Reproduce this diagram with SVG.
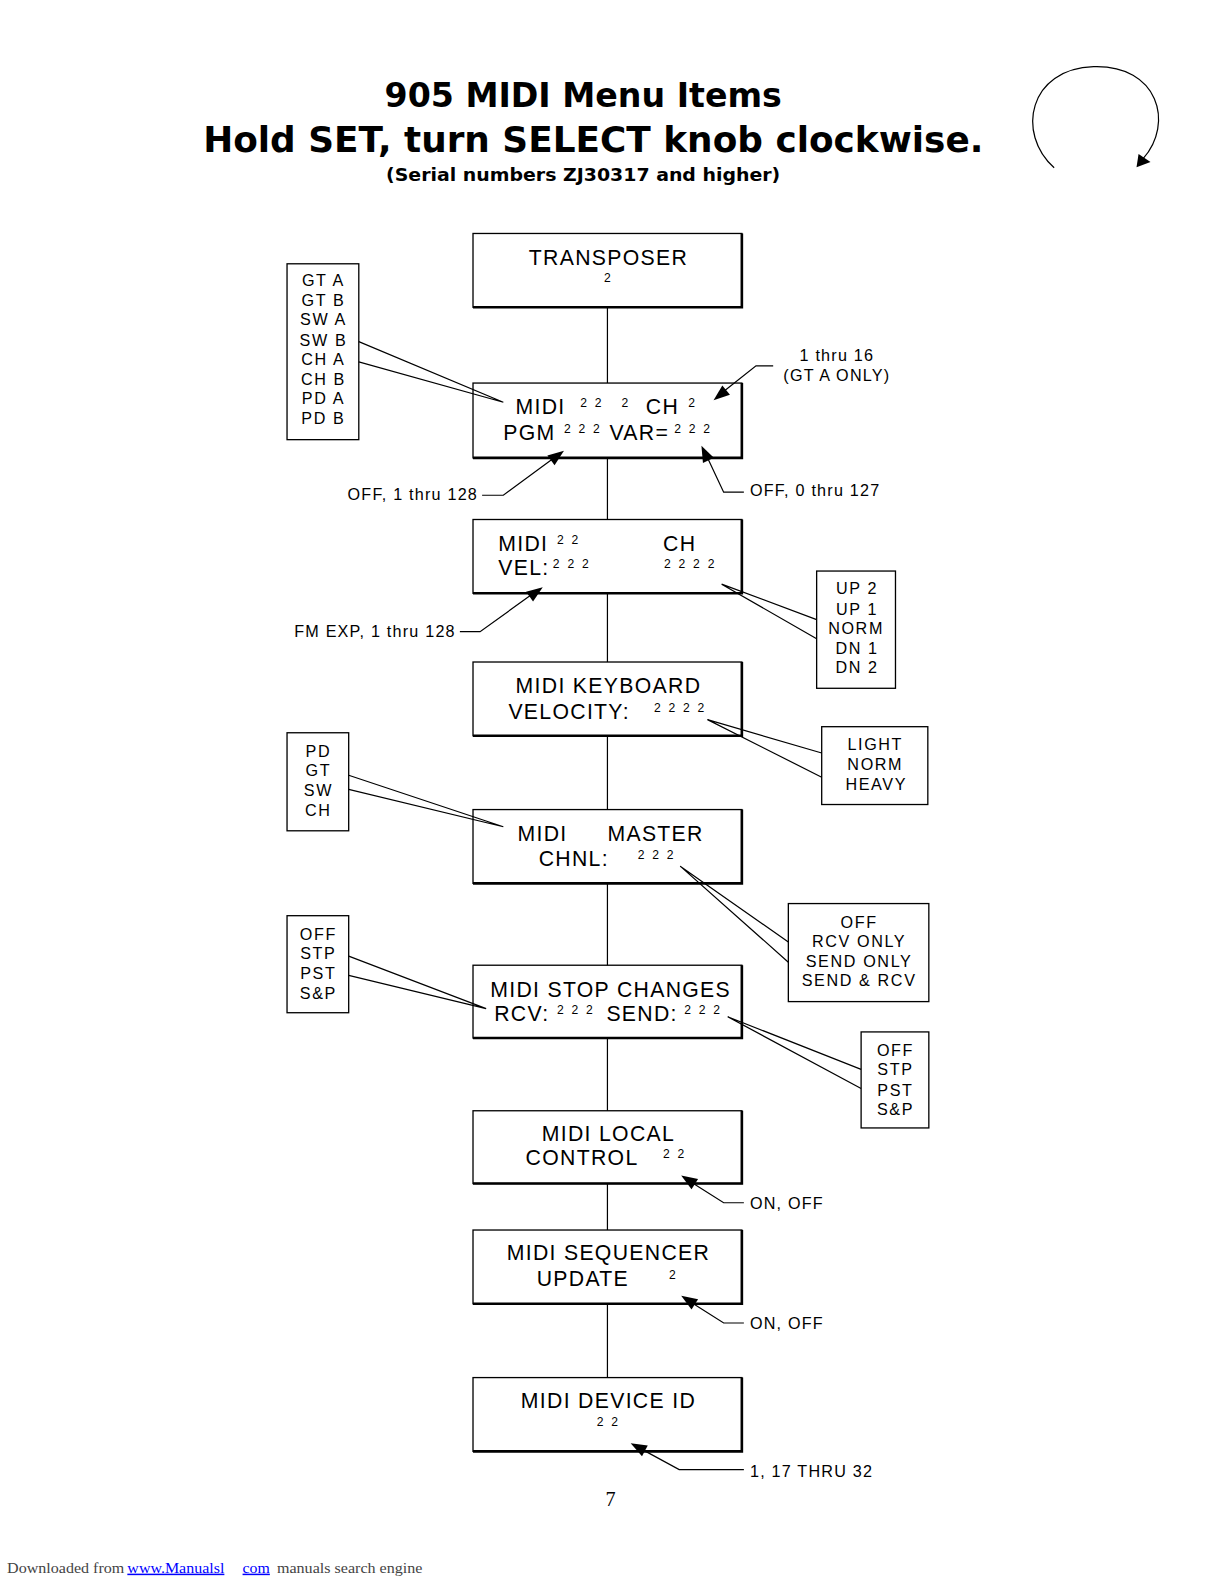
<svg xmlns="http://www.w3.org/2000/svg" width="1225" height="1585" viewBox="0 0 1225 1585">
<style>
.bx{fill:#fff;stroke:#000;stroke-width:1.3}
.sh{fill:none;stroke:#000;stroke-width:2.6}
.m{font-family:"Liberation Sans",Arial,sans-serif;font-size:21px;letter-spacing:1.3px;fill:#000}
.s{font-family:"Liberation Sans",Arial,sans-serif;font-size:12px;letter-spacing:2.2px;fill:#000}
.o{font-family:"Liberation Sans",Arial,sans-serif;font-size:16px;letter-spacing:1.6px;fill:#000;text-anchor:middle}
.a{font-family:"Liberation Sans",Arial,sans-serif;font-size:16px;letter-spacing:1.2px;fill:#000}
.ln{fill:none;stroke:#000;stroke-width:1.2}
.hd{fill:#000;stroke:none}
.c{text-anchor:middle}
.t{font-family:"DejaVu Sans",sans-serif;font-weight:bold;fill:#000;text-anchor:middle}
.f{font-family:"Liberation Serif",serif;font-size:15px}
</style>
<rect width="1225" height="1585" fill="#fff"/>
<g transform="scale(1.0107)">

<g id="title">
<text class="t" x="577" y="106" font-size="33" textLength="393" lengthAdjust="spacingAndGlyphs">905 MIDI Menu Items</text>
<text class="t" x="587" y="150" font-size="35" textLength="772" lengthAdjust="spacingAndGlyphs">Hold SET, turn SELECT knob clockwise.</text>
<text class="t" x="577" y="179" font-size="17" textLength="390" lengthAdjust="spacingAndGlyphs">(Serial numbers ZJ30317 and higher)</text>
</g>

<g id="knob">
<path d="M1043,166 C1005,132 1018,68 1082,66 C1146,64 1162,122 1131,157" class="ln" stroke-width="1.5"/>
<polygon class="hd" points="1124.5,165.5 1126.5,152.3 1138.3,160.2"/>
</g>

<g id="n1">
<rect class="bx" x="468" y="231" width="266" height="73"/>
<path class="sh" d="M734,231 V304 H468"/>
<text class="m c" x="602" y="262">TRANSPOSER</text>
<text class="s c" x="602" y="279">2</text>
</g>

<g id="n2">
<rect class="bx" x="468" y="379" width="266" height="74"/>
<path class="sh" d="M734,379 V453 H468"/>
<text class="m" x="510" y="410">MIDI</text>
<text class="s" x="574" y="403">2 2</text>
<text class="s" x="615" y="403">2</text>
<text class="m" x="639" y="410">CH</text>
<text class="s" x="681" y="403">2</text>
<text class="m" x="498" y="435">PGM</text>
<text class="s" x="558" y="428">2 2 2</text>
<text class="m" x="603" y="435">VAR=</text>
<text class="s" x="667" y="428">2 2 2</text>
</g>

<g id="n3">
<rect class="bx" x="468" y="514" width="266" height="73"/>
<path class="sh" d="M734,514 V587 H468"/>
<text class="m" x="493" y="545">MIDI</text>
<text class="s" x="551" y="538">2 2</text>
<text class="m" x="656" y="545">CH</text>
<text class="m" x="493" y="569">VEL:</text>
<text class="s" x="547" y="562">2 2 2</text>
<text class="s" x="657" y="562">2 2 2 2</text>
</g>

<g id="n4">
<rect class="bx" x="468" y="655" width="266" height="73"/>
<path class="sh" d="M734,655 V728 H468"/>
<text class="m c" x="602" y="686">MIDI KEYBOARD</text>
<text class="m" x="503" y="711">VELOCITY:</text>
<text class="s" x="647" y="704">2 2 2 2</text>
</g>

<g id="n5">
<rect class="bx" x="468" y="801" width="266" height="73"/>
<path class="sh" d="M734,801 V874 H468"/>
<text class="m" x="512" y="832">MIDI</text>
<text class="m" x="601" y="832">MASTER</text>
<text class="m" x="533" y="857">CHNL:</text>
<text class="s" x="631" y="850">2 2 2</text>
</g>

<g id="n6">
<rect class="bx" x="468" y="955" width="266" height="72"/>
<path class="sh" d="M734,955 V1027 H468"/>
<text class="m" x="485" y="986" letter-spacing="0.7">MIDI STOP CHANGES</text>
<text class="m" x="489" y="1010">RCV:</text>
<text class="s" x="551" y="1003">2 2 2</text>
<text class="m" x="600" y="1010">SEND:</text>
<text class="s" x="677" y="1003">2 2 2</text>
</g>

<g id="n7">
<rect class="bx" x="468" y="1099" width="266" height="72"/>
<path class="sh" d="M734,1099 V1171 H468"/>
<text class="m c" x="602" y="1129">MIDI LOCAL</text>
<text class="m" x="520" y="1153">CONTROL</text>
<text class="s" x="656" y="1146">2 2</text>
</g>

<g id="n8">
<rect class="bx" x="468" y="1217" width="266" height="73"/>
<path class="sh" d="M734,1217 V1290 H468"/>
<text class="m c" x="602" y="1247">MIDI SEQUENCER</text>
<text class="m" x="531" y="1272">UPDATE</text>
<text class="s" x="662" y="1265">2</text>
</g>

<g id="n9">
<rect class="bx" x="468" y="1363" width="266" height="73"/>
<path class="sh" d="M734,1363 V1436 H468"/>
<text class="m c" x="602" y="1393">MIDI DEVICE ID</text>
<text class="s c" x="602" y="1411">2 2</text>
</g>

<g id="opt-gt">
<rect class="bx" x="284" y="261" width="71" height="174"/>
<text class="o" x="320" y="283">GT A</text>
<text class="o" x="320" y="303">GT B</text>
<text class="o" x="320" y="322">SW A</text>
<text class="o" x="320" y="342">SW B</text>
<text class="o" x="320" y="361">CH A</text>
<text class="o" x="320" y="381">CH B</text>
<text class="o" x="320" y="400">PD A</text>
<text class="o" x="320" y="420">PD B</text>
</g>

<g id="opt-up">
<rect class="bx" x="808" y="565" width="78" height="116"/>
<text class="o" x="848" y="588">UP 2</text>
<text class="o" x="848" y="608">UP 1</text>
<text class="o" x="847" y="627">NORM</text>
<text class="o" x="848" y="647">DN 1</text>
<text class="o" x="848" y="666">DN 2</text>
</g>

<g id="opt-light">
<rect class="bx" x="813" y="719" width="105" height="77"/>
<text class="o" x="866" y="742">LIGHT</text>
<text class="o" x="866" y="762">NORM</text>
<text class="o" x="867" y="782">HEAVY</text>
</g>

<g id="opt-pd">
<rect class="bx" x="284" y="725" width="61" height="97"/>
<text class="o" x="315" y="749">PD</text>
<text class="o" x="315" y="768">GT</text>
<text class="o" x="315" y="788">SW</text>
<text class="o" x="315" y="807">CH</text>
</g>

<g id="opt-rcv">
<rect class="bx" x="780" y="894" width="139" height="97"/>
<text class="o" x="850" y="918">OFF</text>
<text class="o" x="850" y="937">RCV ONLY</text>
<text class="o" x="850" y="957">SEND ONLY</text>
<text class="o" x="850" y="976">SEND &amp; RCV</text>
</g>

<g id="opt-stp-l">
<rect class="bx" x="284" y="906" width="61" height="96"/>
<text class="o" x="315" y="930">OFF</text>
<text class="o" x="315" y="949">STP</text>
<text class="o" x="315" y="969">PST</text>
<text class="o" x="315" y="988">S&amp;P</text>
</g>

<g id="opt-stp-r">
<rect class="bx" x="852" y="1021" width="67" height="95"/>
<text class="o" x="886" y="1045">OFF</text>
<text class="o" x="886" y="1064">STP</text>
<text class="o" x="886" y="1084">PST</text>
<text class="o" x="886" y="1103">S&amp;P</text>
</g>

<g id="connectors">
<path class="ln" d="M601,304 V379 M601,453 V514 M601,587 V655 M601,728 V801 M601,874 V955 M601,1027 V1099 M601,1171 V1217 M601,1290 V1363"/>
<polyline class="ln" points="355,338 498,398 355,358"/>
<polyline class="ln" points="808,613 714,578 808,632"/>
<polyline class="ln" points="813,745 700,712 813,769"/>
<polyline class="ln" points="345,767 498,818 345,781"/>
<polyline class="ln" points="780,932 673,857 780,952"/>
<polyline class="ln" points="345,946 481,998 345,965"/>
<polyline class="ln" points="852,1058 720,1006 852,1077"/>
<polyline class="ln" points="765,362 748,362 715,388"/>
<polygon class="hd" points="706,396 722.2,390.6 714.7,381.3"/>
<polyline class="ln" points="477,490 498,490 547,454"/>
<polygon class="hd" points="558,446 548.7,460.3 541.6,450.6"/>
<polyline class="ln" points="736,487 716,487 700,453"/>
<polygon class="hd" points="694,441 706.3,452.8 695.5,458.0"/>
<polyline class="ln" points="455,625 475,625 525,589"/>
<polygon class="hd" points="537,581 527.4,595.2 520.5,585.4"/>
<polyline class="ln" points="736,1190 716,1190 686,1171"/>
<polygon class="hd" points="674,1163 690.7,1166.6 684.2,1176.7"/>
<polyline class="ln" points="736,1309 716,1309 686,1290"/>
<polygon class="hd" points="674,1282 690.7,1285.6 684.2,1295.7"/>
<polyline class="ln" points="736,1454 672,1454 637,1435"/>
<polygon class="hd" points="624,1428 640.9,1430.3 635.2,1440.9"/>
</g>

<g id="labels">
<text class="a c" x="828" y="357">1 thru 16</text>
<text class="a c" x="828" y="377" letter-spacing="1.6">(GT A ONLY)</text>
<text class="a" x="473" y="495" text-anchor="end">OFF, 1 thru 128</text>
<text class="a" x="742" y="491">OFF, 0 thru 127</text>
<text class="a" x="451" y="630" text-anchor="end">FM EXP, 1 thru 128</text>
<text class="a" x="742" y="1196" letter-spacing="1.4">ON, OFF</text>
<text class="a" x="742" y="1315" letter-spacing="1.4">ON, OFF</text>
<text class="a" x="742" y="1461">1, 17 THRU 32</text>
</g>

<g id="footer">
<text x="604" y="1490" font-family="Liberation Serif,serif" font-size="20" text-anchor="middle">7</text>
<text class="f" x="7" y="1556" fill="#444" textLength="116" lengthAdjust="spacingAndGlyphs">Downloaded from</text>
<text class="f" x="126" y="1556" fill="#00f" text-decoration="underline" textLength="96" lengthAdjust="spacingAndGlyphs">www.Manualsl</text>
<text class="f" x="240" y="1556" fill="#00f" text-decoration="underline" textLength="27" lengthAdjust="spacingAndGlyphs">com</text>
<text class="f" x="274" y="1556" fill="#444" textLength="144" lengthAdjust="spacingAndGlyphs">manuals search engine</text>
</g>
</g>
</svg>
